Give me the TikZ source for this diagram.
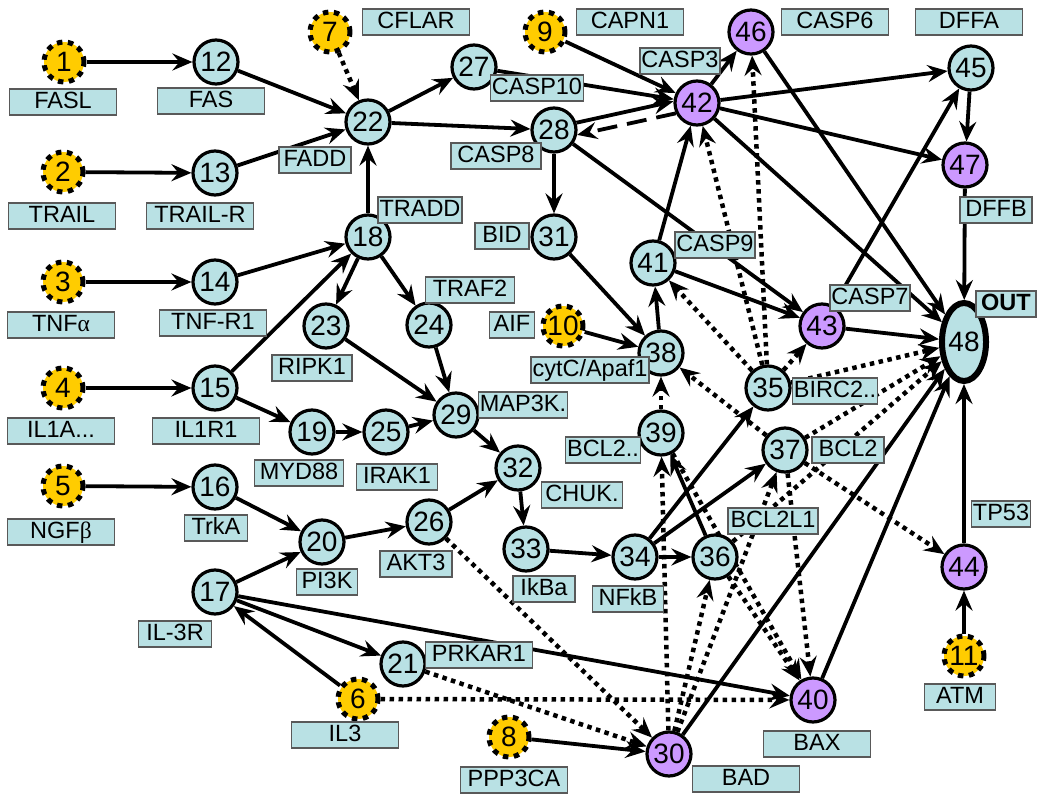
\documentclass[tikz,border=0pt]{standalone}
\usepackage{fontspec}
\setmainfont{Liberation Sans}
\newfontfamily\grk{Liberation Serif}
\usetikzlibrary{arrows.meta,shapes.geometric}
\definecolor{nblue}{RGB}{185,225,228}
\definecolor{npurp}{RGB}{204,153,255}
\definecolor{nyel}{RGB}{255,204,0}
\pgfdeclarelayer{bg}
\pgfsetlayers{bg,main}
\begin{document}
\begin{tikzpicture}[x=1pt,y=-1pt,
 num/.style={circle,draw,line width=3.2pt,minimum size=44pt,inner sep=0pt,font=\fontsize{28}{28}\selectfont},
 bn/.style={num,fill=nblue},
 pn/.style={num,fill=npurp},
 yn/.style={num,fill=nyel,line width=5pt,dash pattern=on 5.5pt off 5.5pt,minimum size=40pt},
 lb/.style={draw=black!65,fill=nblue,line width=1.3pt,minimum height=26pt,minimum width=#1,inner sep=1.5pt,font=\fontsize{23.5}{23.5}\selectfont,text height=17pt,text depth=4pt},
 lb/.default=107pt,
 ar/.style={-{Stealth[length=20pt,width=17pt,inset=7pt]},line width=3.8pt},
 dt/.style={ar,line width=4.5pt,dash pattern=on 4.5pt off 4.5pt},
 ds/.style={ar,dash pattern=on 20pt off 10pt},
]
\useasboundingbox (0,0) rectangle (1037,794);
% nodes
\node[yn] (n1) at (64,62) {1};
\node[yn] (n2) at (63,172) {2};
\node[yn] (n3) at (63,282) {3};
\node[yn] (n4) at (63,388) {4};
\node[yn] (n5) at (63,486) {5};
\node[yn] (n6) at (358,699) {6};
\node[yn] (n7) at (330,32) {7};
\node[yn] (n8) at (509,737) {8};
\node[yn] (n9) at (545,32) {9};
\node[yn] (n10) at (563,326) {10};
\node[yn] (n11) at (964,656) {11};
\node[bn] (n12) at (216,62) {12};
\node[bn] (n13) at (215,173) {13};
\node[bn] (n14) at (215,282) {14};
\node[bn] (n15) at (215,388) {15};
\node[bn] (n16) at (215,487) {16};
\node[bn] (n17) at (215,592) {17};
\node[bn] (n18) at (368,237) {18};
\node[bn] (n19) at (312,432) {19};
\node[bn] (n20) at (322,542) {20};
\node[bn] (n21) at (403,664) {21};
\node[bn] (n22) at (368,122) {22};
\node[bn] (n23) at (326,326) {23};
\node[bn] (n24) at (429,325) {24};
\node[bn] (n25) at (386,432) {25};
\node[bn] (n26) at (429,522) {26};
\node[bn] (n27) at (474,67) {27};
\node[bn] (n28) at (554,130) {28};
\node[bn] (n29) at (456,415) {29};
\node[pn] (n30) at (669,754) {30};
\node[bn] (n31) at (554,237) {31};
\node[bn] (n32) at (518,468) {32};
\node[bn] (n33) at (526,549) {33};
\node[bn] (n34) at (635,557) {34};
\node[bn] (n35) at (768,388) {35};
\node[bn] (n36) at (715,557) {36};
\node[bn] (n37) at (785,450) {37};
\node[bn] (n38) at (661,353) {38};
\node[bn] (n39) at (661,433) {39};
\node[pn] (n40) at (813,700) {40};
\node[bn] (n41) at (653,263) {41};
\node[pn] (n42) at (697,103) {42};
\node[pn] (n43) at (822,326) {43};
\node[pn] (n44) at (964,567) {44};
\node[bn] (n45) at (971,68) {45};
\node[pn] (n46) at (751,32) {46};
\node[pn] (n47) at (965,165) {47};
\node[ellipse,draw,line width=6pt,fill=nblue,minimum width=44pt,minimum height=78pt,inner sep=0pt,font=\fontsize{28}{28}\selectfont] (n48) at (964,342) {48};
% labels
\node[lb] (l1) at (63,102) {FASL};
\node[lb] (l12) at (211,101) {FAS};
\node[lb] (l2) at (62,216) {TRAIL};
\node[lb] (l13) at (200,216) {TRAIL-R};
\node[lb] (l3) at (61,325) {TNF{\grk α}};
\node[lb] (l14) at (213,323) {TNF-R1};
\node[lb] (l4) at (61,431) {IL1A...};
\node[lb] (l15) at (206,431) {IL1R1};
\node[lb] (l5) at (61,532) {NGF{\grk β}};
\node[lb=63pt] (l16) at (216,528) {TrkA};
\node[lb=73pt] (l17) at (175,634) {IL-3R};
\node[lb] (l6) at (345,735) {IL3};
\node[lb] (l7) at (416,22) {CFLAR};
\node[lb] (l9) at (630,22) {CAPN1};
\node[lb] (l46) at (835,22) {CASP6};
\node[lb] (l45) at (969,22) {DFFA};
\node[lb=72pt] (l47) at (996,210) {DFFB};
\node[lb=72pt] (l22) at (315,160) {FADD};
\node[lb=89pt] (l27) at (537,88) {CASP10};
\node[lb=79pt] (l42) at (680,61) {CASP3};
\node[lb=90pt] (l28) at (496,156) {CASP8};
\node[lb=79pt] (l18) at (420,210) {TRADD};
\node[lb=54pt] (l31) at (502,236) {BID};
\node[lb=80pt] (l23) at (312,368) {RIPK1};
\node[lb=89pt] (l19) at (299,473) {MYD88};
\node[lb=89pt] (l24) at (470,290) {TRAF2};
\node[lb=45pt] (l10) at (512,325) {AIF};
\node[lb=116pt] (l38) at (590,370) {cytC/Apaf1};
\node[lb=89pt] (l29) at (523,405) {MAP3K.};
\node[lb=81pt] (l25) at (397,477) {IRAK1};
\node[lb=71pt] (l39) at (603,450) {BCL2..};
\node[lb=81pt] (l32) at (582,495) {CHUK.};
\node[lb=80pt] (l41) at (715,245) {CASP9};
\node[lb=73pt] (l43) at (870,298) {CASP7};
\node[lb=60pt,font=\fontsize{23.5}{23.5}\selectfont\bfseries] (l48) at (1006,304) {OUT};
\node[lb=81pt] (l35) at (835,391) {BIRC2..};
\node[lb=72pt] (l37) at (848,450) {BCL2};
\node[lb=90pt] (l36) at (773,521) {BCL2L1};
\node[lb=58pt] (l44) at (1001,514) {TP53};
\node[lb=61pt] (l20) at (327,582) {PI3K};
\node[lb=72pt] (l26) at (416,564) {AKT3};
\node[lb=62pt] (l33) at (544,589) {IkBa};
\node[lb=71pt] (l34) at (628,599) {NFkB};
\node[lb] (l21) at (479,655) {PRKAR1};
\node[lb] (l8) at (514,780) {PPP3CA};
\node[lb] (l30) at (746,779) {BAD};
\node[lb] (l40) at (817,744) {BAX};
\node[lb=71pt] (l11) at (960,697) {ATM};
% edges
\begin{pgfonlayer}{bg}
\draw[ar] (n1) -- (n12);
\draw[ar] (n2) -- (n13);
\draw[ar] (n3) -- (n14);
\draw[ar] (n4) -- (n15);
\draw[ar] (n5) -- (n16);
\draw[ar] (n12) -- (n22);
\draw[ar] (n13) -- (n22);
\draw[ar] (n14) -- (n18);
\draw[ar] (n15) -- (n18);
\draw[ar] (n15) -- (n19);
\draw[ar] (n16) -- (n20);
\draw[ar] (n17) -- (n20);
\draw[ar] (n17) -- (n21);
\draw[ar] (n17) -- (n40);
\draw[ar] (n6) -- (n17);
\draw[ar] (n18) -- (n22);
\draw[ar] (n18) -- (n23);
\draw[ar] (n18) -- (n24);
\draw[ar] (n22) -- (n27);
\draw[ar] (n22) -- (n28);
\draw[ar] (n27) -- (n42);
\draw[ar] (n9) -- (n42);
\draw[ar] (n28.18) -- (n42.176);
\draw[ds] (n42.206) -- (n28.-12);
\draw[ar] (n42) -- (n46);
\draw[ar] (n28) -- (n31);
\draw[ar] (n28) -- (n43);
\draw[ar] (n31) -- (n38);
\draw[ar] (n10) -- (n38);
\draw[ar] (n38) -- (n41);
\draw[ar] (n41) -- (n42);
\draw[ar] (n41) -- (n43);
\draw[ar] (n19) -- (n25);
\draw[ar] (n25) -- (n29);
\draw[ar] (n23) -- (n29);
\draw[ar] (n24) -- (n29);
\draw[ar] (n29) -- (n32);
\draw[ar] (n26) -- (n32);
\draw[ar] (n20) -- (n26);
\draw[ar] (n32) -- (n33);
\draw[ar] (n33) -- (n34);
\draw[ar] (n34) -- (n36);
\draw[ar] (n34) -- (n35);
\draw[ar] (n34) -- (n37);
\draw[ar] (n36) -- (n39);
\draw[ar] (n30) -- (n48);
\draw[ar] (n40) -- (n48);
\draw[ar] (n44) -- (n48);
\draw[ar] (n11) -- (n44);
\draw[ar] (n43) -- (n48);
\draw[ar] (n43) -- (n45);
\draw[ar] (n42) -- (n45);
\draw[ar] (n42) -- (n47);
\draw[ar] (n42) -- (n48);
\draw[ar] (n46) -- (n48);
\draw[ar] (n45) -- (n47);
\draw[ar] (n47) -- (n48);
\draw[ar] (n8) -- (n30);
\draw[dt] (n7) -- (n22);
\draw[dt] (n39) -- (n38);
\draw[dt] (n37) -- (n38);
\draw[dt] (n37) -- (n44);
\draw[dt] (n35) -- (n41);
\draw[dt] (n35) -- (n42);
\draw[dt] (n35) -- (n46);
\draw[dt] (n35) -- (n43);
\draw[dt] (n35) -- (n48);
\draw[dt] (n37) -- (n48);
\draw[dt] (n36) -- (n48);
\draw[dt] (n39) -- (n40);
\draw[dt] (n37) -- (n40);
\draw[dt] (n36) -- (n40);
\draw[dt] (n30) -- (n39);
\draw[dt] (n30) -- (n36);
\draw[dt] (n30) -- (n37);
\draw[dt] (n26) -- (n30);
\draw[dt] (n21) -- (n30);
\draw[dt] (n6) -- (n40);
\end{pgfonlayer}
\end{tikzpicture}
\end{document}
